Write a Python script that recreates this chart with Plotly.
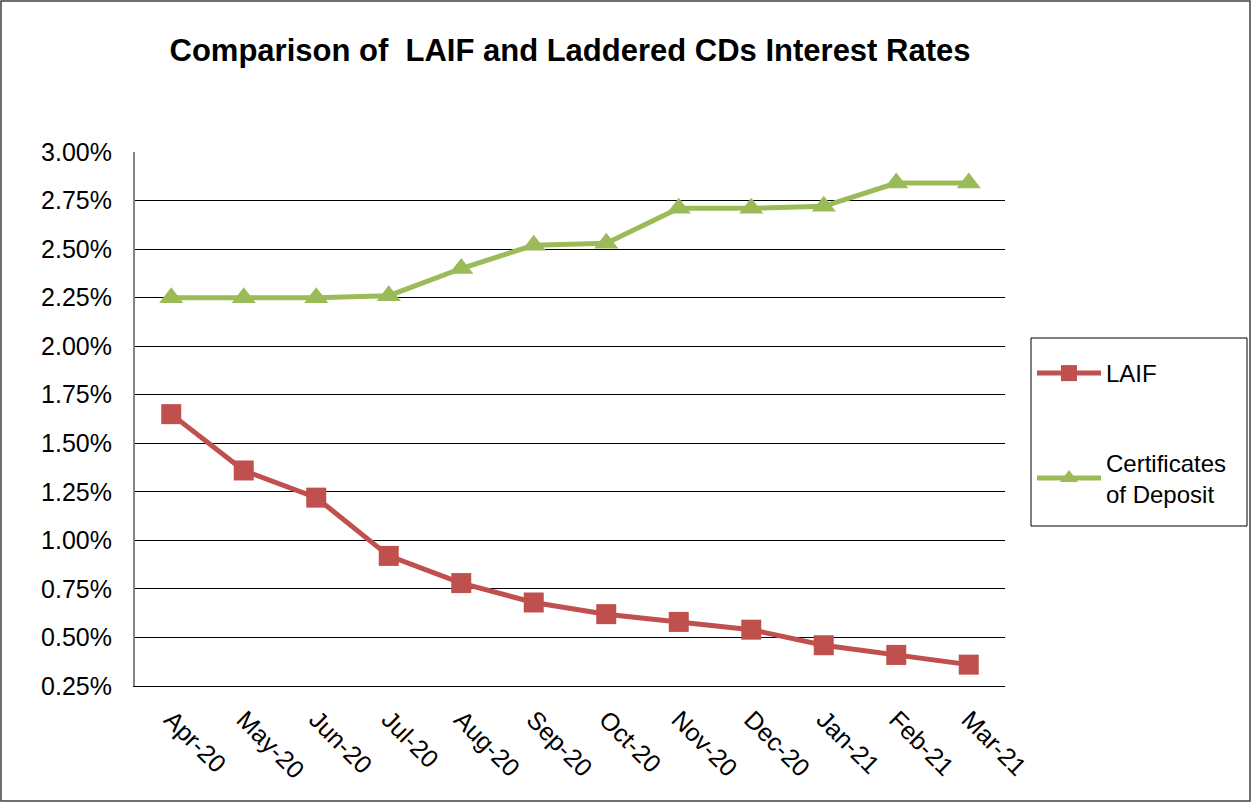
import plotly.graph_objects as go

months = ["Apr-20", "May-20", "Jun-20", "Jul-20", "Aug-20", "Sep-20",
          "Oct-20", "Nov-20", "Dec-20", "Jan-21", "Feb-21", "Mar-21"]
laif = [1.65, 1.36, 1.22, 0.92, 0.78, 0.68, 0.62, 0.58, 0.54, 0.46, 0.41, 0.36]
cds = [2.25, 2.25, 2.25, 2.26, 2.40, 2.52, 2.53, 2.71, 2.71, 2.72, 2.84, 2.84]
y_ticks = [0.25, 0.50, 0.75, 1.00, 1.25, 1.50, 1.75, 2.00, 2.25, 2.50, 2.75, 3.00]
y_tick_labels = ["0.25%", "0.50%", "0.75%", "1.00%", "1.25%", "1.50%",
                 "1.75%", "2.00%", "2.25%", "2.50%", "2.75%", "3.00%"]

W, H = 1253, 803
L, R, T, B = 135, 248, 152, 117
pw, ph = W - L - R, H - T - B

fig = go.Figure()
fig.add_trace(go.Scatter(
    x=months, y=laif, name="LAIF", mode="lines+markers",
    line=dict(color="#C0504D", width=5),
    marker=dict(symbol="square", size=20, color="#C0504D"),
    legendgroup="a"))
fig.add_trace(go.Scatter(
    x=months, y=cds, name="Certificates<br>of Deposit", mode="lines+markers",
    line=dict(color="#9BBB59", width=5),
    marker=dict(symbol="triangle-up", size=21, color="#9BBB59"),
    legendgroup="b"))

def px_x(p):
    return (p - L) / pw

def px_y(p):
    return (H - B - p) / ph

fig.update_layout(
    width=W, height=H,
    margin=dict(l=L, r=R, t=T, b=B),
    paper_bgcolor="white", plot_bgcolor="white",
    font=dict(family="Liberation Sans, Arial, sans-serif", size=24, color="black"),
    title=dict(text="<b>Comparison of\u00a0\u00a0LAIF and Laddered CDs Interest Rates</b>",
               font=dict(size=31, color="black", family="Liberation Sans, Arial, sans-serif"),
               x=0.5, xref="paper", xanchor="center",
               y=1 - 50 / H, yref="container", yanchor="middle"),
    xaxis=dict(type="category", range=[-0.5, 11.5], tickangle=45,
               showgrid=False, showline=True, linecolor="black", linewidth=1,
               ticks="", ticklabelstandoff=8,
               tickfont=dict(size=25)),
    yaxis=dict(range=[0.25, 3.0], tickvals=y_ticks, ticktext=y_tick_labels,
               showgrid=True, gridcolor="black", gridwidth=1,
               showline=True, linecolor="#868686", linewidth=2,
               ticks="", ticklabelstandoff=16, zeroline=False,
               tickfont=dict(size=25)),
    legend=dict(x=px_x(1032), y=px_y(351), xanchor="left", yanchor="top",
                borderwidth=0, bgcolor="rgba(0,0,0,0)",
                font=dict(size=24), tracegroupgap=55, itemwidth=64,
                traceorder="grouped"),
    showlegend=True,
    shapes=[
        dict(type="rect", xref="paper", yref="paper",
             x0=px_x(1), x1=px_x(1250), y0=px_y(801), y1=px_y(1),
             line=dict(color="#404040", width=1.5), fillcolor="rgba(0,0,0,0)",
             layer="below"),
        dict(type="rect", xref="paper", yref="paper",
             x0=px_x(1031), x1=px_x(1247), y0=px_y(526), y1=px_y(338),
             line=dict(color="black", width=1), fillcolor="rgba(0,0,0,0)",
             layer="below"),
    ],
)

fig.write_html("out.html")
